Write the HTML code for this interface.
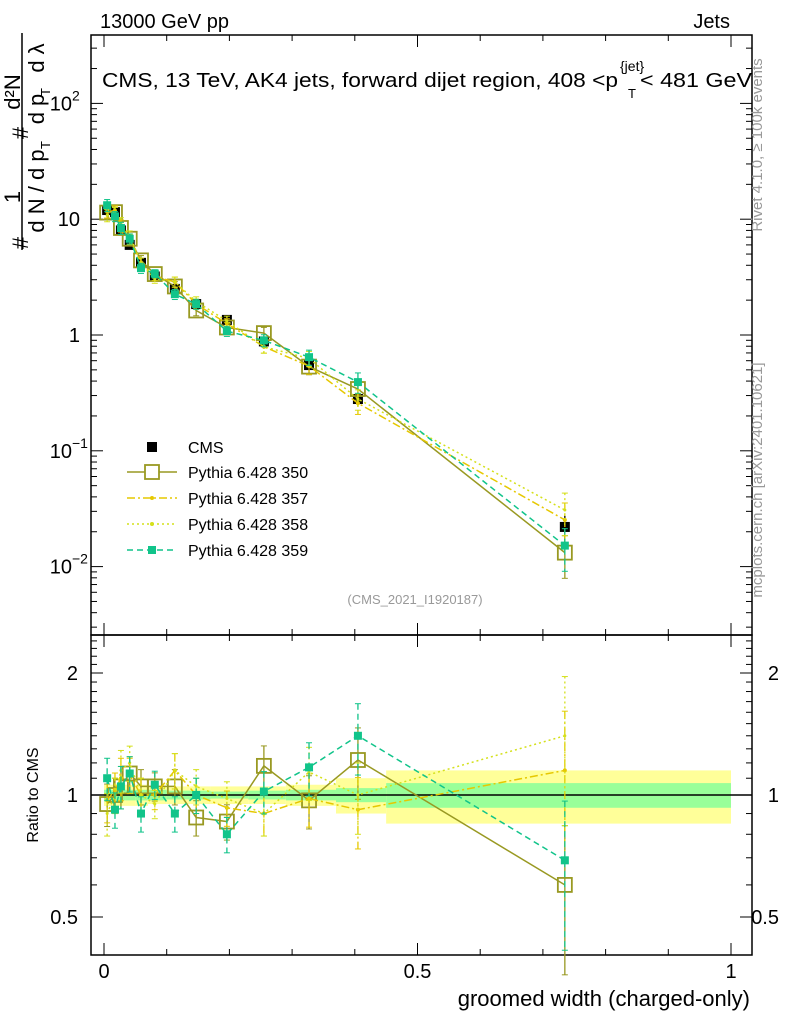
<!DOCTYPE html>
<html><head><meta charset="utf-8"><style>
body{margin:0;background:#fff;}
svg text{font-family:"Liberation Sans",sans-serif;}
</style></head><body>
<svg id="c" width="786" height="1024" xmlns="http://www.w3.org/2000/svg"></svg>
<script>
const xs=[0.005,0.0175,0.027,0.041,0.059,0.081,0.113,0.147,0.196,0.255,0.327,0.405,0.735];
const cms=[12,11.5,8,6,4.2,3.2,2.5,1.85,1.35,0.88,0.55,0.28,0.022];
const cmsErr=[0.08,0.08,0.08,0.08,0.08,0.08,0.08,0.08,0.08,0.08,0.1,0.12,0.25];
const r350=[0.95,1.0,1.05,1.13,1.05,1.05,1.05,0.88,0.86,1.18,0.97,1.22,0.6];
const r357=[0.97,1.03,1.1,1.12,1.0,1.0,1.15,1.0,0.93,0.9,0.98,0.92,1.15];
const r358=[0.9,1.0,1.15,1.2,1.0,0.95,1.15,1.05,0.98,0.9,1.14,1.0,1.4];
const r359=[1.1,0.92,1.05,1.13,0.9,1.06,0.9,1.0,0.8,1.02,1.17,1.4,0.69];
const mcErr=[0.12,0.1,0.12,0.1,0.1,0.08,0.1,0.1,0.1,0.12,0.15,0.2,0.4];
const binEdges=[0,0.01,0.02,0.035,0.05,0.07,0.1,0.13,0.17,0.23,0.29,0.37,0.45,1.0];
const bandGreen=[0.03,0.03,0.03,0.03,0.03,0.03,0.025,0.025,0.02,0.025,0.03,0.04,0.07];
const bandYellow=[0.06,0.06,0.06,0.06,0.06,0.05,0.05,0.05,0.05,0.05,0.06,0.1,0.15];
const legendLabels=["CMS","Pythia 6.428 350","Pythia 6.428 357","Pythia 6.428 358","Pythia 6.428 359"];

const S=document.getElementById('c');const NS="http://www.w3.org/2000/svg";
function el(t,a,txt,par){const e=document.createElementNS(NS,t);for(const k in a)e.setAttribute(k,a[k]);if(txt!==undefined)e.textContent=txt;(par||S).appendChild(e);return e;}
const X=v=>104+627*v;
const Y=v=>335-115.8*Math.log10(v);
const R=v=>795-122*Math.log2(v);
const L=91,Rt=752,T=35,M=635,B=955;

for(let i=0;i<xs.length;i++){
 let y=el('rect',{x:X(binEdges[i]),y:R(1+bandYellow[i]),width:X(binEdges[i+1])-X(binEdges[i]),height:R(1-bandYellow[i])-R(1+bandYellow[i]),fill:'#ffff99'});
 
 let g=el('rect',{x:X(binEdges[i]),y:R(1+bandGreen[i]),width:X(binEdges[i+1])-X(binEdges[i]),height:R(1-bandGreen[i])-R(1+bandGreen[i]),fill:'#99ff99'});
 
}
el('line',{x1:L,x2:Rt,y1:R(1),y2:R(1),stroke:'#000','stroke-width':1.5});

el('rect',{x:L,y:T,width:Rt-L,height:M-T,fill:'none',stroke:'#000','stroke-width':1.5});
el('rect',{x:L,y:M,width:Rt-L,height:B-M,fill:'none',stroke:'#000','stroke-width':1.5});

for(let v=0;v<=1.0001;v+=0.1){const big=Math.abs(v*2-Math.round(v*2))<1e-6;
 for(const [y0,d] of [[T,1],[M,-1],[M,1],[B,-1]]){el('line',{x1:X(v),x2:X(v),y1:y0,y2:y0+d*(big?12:6),stroke:'#000'});}}
[[0,'0'],[0.5,'0.5'],[1,'1']].forEach(([v,t])=>{const e=el('text',{x:X(v),y:978,'font-size':20,'text-anchor':'middle'},t);});
for(let d=-3;d<=2;d++)for(let m=1;m<10;m++){const v=m*Math.pow(10,d);const y=Y(v);if(y<T||y>M)continue;
 const len=m==1?12:6;el('line',{x1:L,x2:L+len,y1:y,y2:y,stroke:'#000'});el('line',{x1:Rt,x2:Rt-len,y1:y,y2:y,stroke:'#000'});}
const yl=[[100,'10','2'],[10,'10',''],[1,'1',''],[0.1,'10','−1'],[0.01,'10','−2']];
yl.forEach(([v,b,s])=>{const t=el('text',{x:s?72:80,y:Y(v)+7,'font-size':20,'text-anchor':'end'},b);
 if(s){el('text',{x:72,y:Y(v)-3,'font-size':14},s);}});
for(let v=0.3;v<2.5;v+=0.1){const y=R(v);if(y<M||y>B)continue;const big=Math.abs(v-0.5)<1e-6||Math.abs(v-1)<1e-6||Math.abs(v-2)<1e-6;
 const len=big?12:6;el('line',{x1:L,x2:L+len,y1:y,y2:y,stroke:'#000'});el('line',{x1:Rt,x2:Rt-len,y1:y,y2:y,stroke:'#000'});}
[[2,'2'],[1,'1'],[0.5,'0.5']].forEach(([v,t])=>{el('text',{x:78,y:R(v)+7,'font-size':20,'text-anchor':'end'},t);el('text',{x:779,y:R(v)+7,'font-size':20,'text-anchor':'end'},t);});

const ser=[
 {r:r350,c:'#999922',dash:'',m:'open',name:'pythia-350'},
 {r:r357,c:'#e6c800',dash:'8,3,2,3',m:'tri',name:'pythia-357'},
 {r:r358,c:'#d4e01a',dash:'2,3',m:'dot',name:'pythia-358'},
 {r:r359,c:'#11c48a',dash:'6,4',m:'sq',name:'pythia-359'}];
function drawSeries(s,top){
 const yf=top?(i)=>Y(cms[i]*s.r[i]):(i)=>R(s.r[i]);
 const pts=xs.map((x,i)=>X(x)+','+yf(i)).join(' ');
 const pl=el('polyline',{points:pts,fill:'none',stroke:s.c,'stroke-width':1.5,'stroke-dasharray':s.dash});
 
 xs.forEach((x,i)=>{const v=top?cms[i]*s.r[i]:s.r[i];const f=top?Y:R;
  const y1=f(v*(1+mcErr[i])),y2=f(v*(1-mcErr[i]));
  el('line',{x1:X(x),x2:X(x),y1:y1,y2:y2,stroke:s.c,'stroke-width':1.3,'stroke-dasharray':s.dash});
  el('line',{x1:X(x)-3,x2:X(x)+3,y1:y1,y2:y1,stroke:s.c});el('line',{x1:X(x)-3,x2:X(x)+3,y1:y2,y2:y2,stroke:s.c});
  let m;const cx=X(x),cy=f(v);
  if(s.m=='open')m=el('rect',{x:cx-7,y:cy-7,width:14,height:14,fill:'none',stroke:s.c,'stroke-width':1.8});
  else if(s.m=='sq')m=el('rect',{x:cx-4,y:cy-4,width:8,height:8,fill:s.c});
  else if(s.m=='tri')m=el('circle',{cx:cx,cy:cy,r:2,fill:s.c});
  else m=el('circle',{cx:cx,cy:cy,r:1.5,fill:s.c});
  });
}
xs.forEach((x,i)=>{const cx=X(x),cy=Y(cms[i]);
 el('line',{x1:cx,x2:cx,y1:Y(cms[i]*(1+cmsErr[i])),y2:Y(cms[i]*(1-cmsErr[i])),stroke:'#000','stroke-width':1.3});
 const m=el('rect',{x:cx-5,y:cy-5,width:10,height:10,fill:'#000'});});
ser.forEach(s=>{drawSeries(s,true);drawSeries(s,false);});

const lx=145,ly=[447,472,498,524,550];
el('rect',{x:lx+2,y:ly[0]-5,width:10,height:10,fill:'#000'});
ser.forEach((s,k)=>{const y=ly[k+1];el('line',{x1:lx-18,x2:lx+32,y1:y,y2:y,stroke:s.c,'stroke-width':1.5,'stroke-dasharray':s.dash});
 if(s.m=='open')el('rect',{x:lx,y:y-7,width:14,height:14,fill:'#fff',stroke:s.c,'stroke-width':1.8});
 else if(s.m=='sq')el('rect',{x:lx+3,y:y-4,width:8,height:8,fill:s.c});
 else el('circle',{cx:lx+7,cy:y,r:2,fill:s.c});});
legendLabels.forEach((t,k)=>{const e=el('text',{x:188,y:ly[k]+6,'font-size':16},t);});

el('text',{x:100,y:28,'font-size':20},'13000 GeV pp');
el('text',{x:730,y:28,'font-size':20,'text-anchor':'end'},'Jets');
const ti=el('text',{x:102,y:87,'font-size':20,textLength:516,lengthAdjust:'spacingAndGlyphs'},'CMS, 13 TeV, AK4 jets, forward dijet region, 408 <p');
el('text',{x:628,y:98,'font-size':13},'T');el('text',{x:620,y:71,'font-size':14},'{jet}');
el('text',{x:640,y:87,'font-size':20,textLength:112,lengthAdjust:'spacingAndGlyphs'},'< 481 GeV');
el('text',{x:415,y:604,'font-size':13,fill:'#999','text-anchor':'middle'},'(CMS_2021_I1920187)');
const xt=el('text',{x:750,y:1006,'font-size':22,'text-anchor':'end'},'groomed width (charged-only)');
const rt=el('text',{x:0,y:0,'font-size':16,'text-anchor':'middle',transform:'translate(38,795) rotate(-90)'},'Ratio to CMS');
// y axis title as rotated fractions
const yg=el('g',{});
const rot=(x,y,t,fs,anchor)=>el('text',{x:0,y:0,'font-size':fs,'text-anchor':anchor||'middle',transform:`translate(${x},${y}) rotate(-90)`},t,yg);
el('line',{x1:22,x2:22,y1:33,y2:250,stroke:'#000','stroke-width':1.5},undefined,yg);
rot(20,197,'1',22);
rot(20,92,'d²N',22);
rot(44,191,'d N / d p',22);
rot(50,145,'T',13);
rot(44,109,'d p',22);
rot(50,92,'T',13);
rot(44,58,'d λ',22);
rot(28,243,'#',22);
rot(28,133,'#',22);
el('text',{x:0,y:0,'font-size':15,fill:'#999','text-anchor':'middle',transform:'translate(762,145) rotate(-90)'},'Rivet 4.1.0, ≥ 100k events');
el('text',{x:0,y:0,'font-size':15,fill:'#999','text-anchor':'middle',transform:'translate(762,480) rotate(-90)'},'mcplots.cern.ch [arXiv:2401.10621]');
</script>
</body></html>
